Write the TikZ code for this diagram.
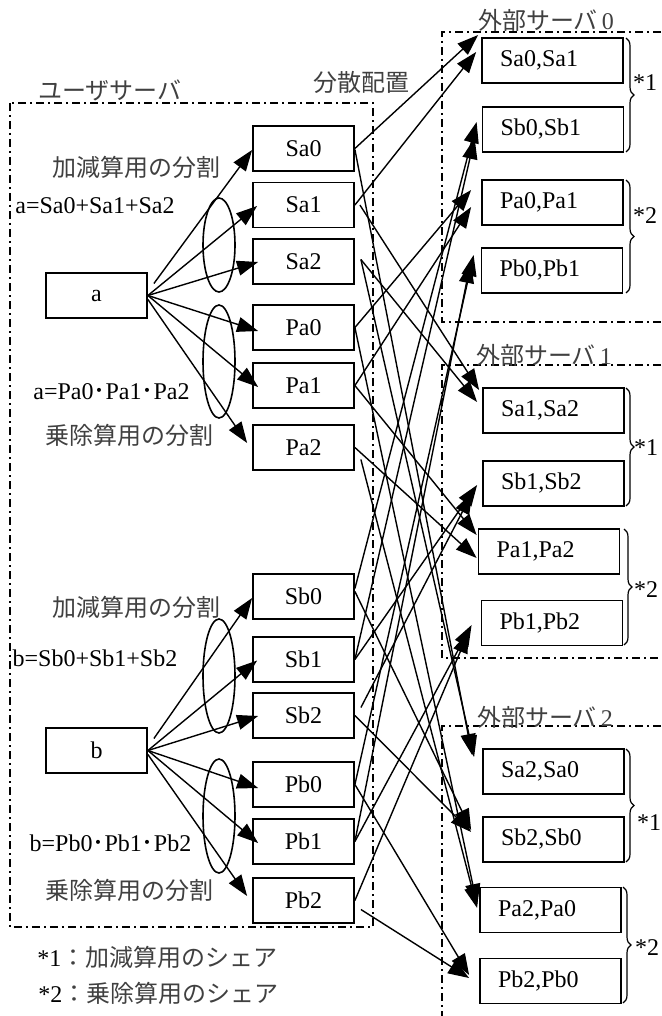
\documentclass[tikz,border=0pt]{standalone}
\usepackage{fontspec}
\setmainfont{Liberation Serif}
\newfontfamily\jp{Noto Sans CJK JP}
\usetikzlibrary{arrows.meta,decorations.pathreplacing,calc}
\begin{document}
\begin{tikzpicture}[x=0.5pt,y=-0.5pt,
  share/.style={draw,line width=0.9pt,minimum width=50.5pt,minimum height=22.5pt,inner sep=0pt,font=\fontsize{12}{14}\selectfont},
  srv/.style={draw,line width=0.9pt,minimum width=70.5pt,minimum height=22.5pt,inner xsep=9pt,inner ysep=0pt,text width=52.5pt,align=left,font=\fontsize{12}{14}\selectfont},
  arr/.style={line width=0.7pt,-{Triangle[length=10.5pt,width=7.5pt]}},
  frame/.style={line width=0.6pt,dash pattern=on 4pt off 2pt on 1pt off 2pt},
  lbl/.style={font=\fontsize{12}{14}\selectfont,inner sep=0pt},
  jlbl/.style={font=\jp\fontsize{12}{14}\selectfont,text=black!75,inner sep=0pt},
  grp/.style={line width=0.8pt},
  br/.style={decorate,decoration={brace,amplitude=4pt},line width=0.6pt}
]
\useasboundingbox (0,0) rectangle (661,1016);

% frames
\draw[frame] (10,103) rectangle (373,927);
\draw[frame] (661,32) -- (442,32) -- (442,322) -- (661,322);
\draw[frame] (661,365) -- (442,365) -- (442,658) -- (661,658);
\draw[frame] (661,726) -- (442,726) -- (442,1016);

% labels
\node[jlbl] (luser) at (110,90) {ユーザサーバ};
\node[jlbl] (lbunsan) at (361,82) {分散配置};
\node[jlbl] (lsrv0) at (546,20) {外部サーバ\,\rmfamily 0};
\node[jlbl] (lsrv1) at (544,355) {外部サーバ\,\rmfamily 1};
\node[jlbl] (lsrv2) at (545,717) {外部サーバ\,\rmfamily 2};

\node[jlbl] (lka) at (136,167) {加減算用の分割};
\node[lbl] (eqsa) at (95,206) {a=Sa0+Sa1+Sa2};
\node[lbl] (eqpa) at (111.5,392) {a=Pa0{\jp ･}Pa1{\jp ･}Pa2};
\node[jlbl] (ljo) at (129,435) {乗除算用の分割};
\node[jlbl] (lkb) at (136,607) {加減算用の分割};
\node[lbl] (eqsb) at (95,658) {b=Sb0+Sb1+Sb2};
\node[lbl] (eqpb) at (110.5,843) {b=Pb0{\jp ･}Pb1{\jp ･}Pb2};
\node[jlbl] (ljob) at (129,890) {乗除算用の分割};

\node[lbl,anchor=west] (leg1) at (37,957) {*1{\jp\color{black!75}：加減算用のシェア}};
\node[lbl,anchor=west] (leg2) at (38,993) {*2{\jp\color{black!75}：乗除算用のシェア}};

% source boxes
\node[share] (a) at (96.5,295.5) {a};
\node[share] (b) at (96.5,750.5) {b};

% share boxes
\node[share] (sa0) at (303.5,148.5) {Sa0};
\node[share] (sa1) at (303.5,205) {Sa1};
\node[share] (sa2) at (303.5,261.5) {Sa2};
\node[share] (pa0) at (303.5,327.5) {Pa0};
\node[share] (pa1) at (303.5,385.5) {Pa1};
\node[share] (pa2) at (303.5,447.5) {Pa2};
\node[share] (sb0) at (303.5,596.5) {Sb0};
\node[share] (sb1) at (303.5,659.5) {Sb1};
\node[share] (sb2) at (303.5,715.5) {Sb2};
\node[share] (pb0) at (303.5,784.5) {Pb0};
\node[share] (pb1) at (303.5,841.5) {Pb1};
\node[share] (pb2) at (303.5,900.5) {Pb2};

% server boxes
\node[srv] (s0a) at (552.5,60.5) {Sa0,Sa1};
\node[srv] (s0b) at (553,129.5) {Sb0,Sb1};
\node[srv] (s0c) at (552.5,202.5) {Pa0,Pa1};
\node[srv] (s0d) at (552,270.5) {Pb0,Pb1};
\node[srv] (s1a) at (553.5,410.5) {Sa1,Sa2};
\node[srv] (s1b) at (553.5,483.5) {Sb1,Sb2};
\node[srv] (s1c) at (549,551.5) {Pa1,Pa2};
\node[srv] (s1d) at (552,623) {Pb1,Pb2};
\node[srv] (s2a) at (553.5,771.5) {Sa2,Sa0};
\node[srv] (s2b) at (553.5,839.5) {Sb2,Sb0};
\node[srv] (s2c) at (550.5,910) {Pa2,Pa0};
\node[srv] (s2d) at (550.5,981) {Pb2,Pb0};

% braces
\draw[br] (626,38) -- (626,152);
\draw[br] (626,180) -- (626,293);
\draw[br] (626,388) -- (626,506);
\draw[br] (624,529) -- (624,645);
\draw[br] (626,749) -- (626,862);
\draw[br] (623,887) -- (623,1003);
\node[lbl] (n01) at (645,83) {*1};
\node[lbl] (n02) at (645,216) {*2};
\node[lbl] (n11) at (646,448) {*1};
\node[lbl] (n12) at (646,590) {*2};
\node[lbl] (n21) at (649,823) {*1};
\node[lbl] (n22) at (647,948) {*2};

% grouping ellipses
\draw[grp] (219,245) ellipse [x radius=16, y radius=47];
\draw[grp] (219,361.5) ellipse [x radius=16, y radius=56.5];
\draw[grp] (219,676) ellipse [x radius=16, y radius=57];
\draw[grp] (219,816) ellipse [x radius=16, y radius=57];

% splitting arrows a
\draw[arr] ($(a.east)+(6,-12)$) -- ($(sa0.west)+(0,1.5)$);
\draw[arr] (a.east) -- ($(sa1.west)+(5,1)$);
\draw[arr] (a.east) -- ($(sa2.west)+(6,0.5)$);
\draw[arr] (a.east) -- ($(pa0.west)+(6,3.5)$);
\draw[arr] (a.east) -- ($(pa1.west)+(6,1.5)$);
\draw[arr] ($(a.east)+(0,4)$) -- ($(pa2.west)+(-5,-4.5)$);
% splitting arrows b
\draw[arr] ($(b.east)+(6,-12)$) -- ($(sb0.west)+(0,1.5)$);
\draw[arr] (b.east) -- ($(sb1.west)+(5,1)$);
\draw[arr] (b.east) -- ($(sb2.west)+(6,0.5)$);
\draw[arr] (b.east) -- ($(pb0.west)+(6,3.5)$);
\draw[arr] (b.east) -- ($(pb1.west)+(6,1.5)$);
\draw[arr] ($(b.east)+(0,4)$) -- ($(pb2.west)+(-5,-4.5)$);

% distribution arrows
\draw[arr] (sa0.east) -- ($(s0a.west)+(-3,-25.5)$);
\draw[arr] ($(sa0.east)+(0,1)$) -- ($(s2a.west)+(-10,-16.5)$);
\draw[arr] (sa1.east) -- ($(s0a.west)+(-5,-8.5)$);
\draw[arr] ($(sa1.east)+(5,0)$) -- ($(s1a.west)+(-3,-20.5)$);
\draw[arr] ($(sa2.east)+(6,-2)$) -- ($(s1a.west)+(-5,-8.5)$);
\draw[arr] ($(sa2.east)+(6,-2)$) -- ($(s2a.west)+(-8,-14.5)$);
\draw[arr] (pa0.east) -- ($(s0c.west)+(-10,-12.5)$);
\draw[arr] (pa0.east) -- ($(s2c.west)+(-2,-5)$);
\draw[arr] (pa1.east) -- ($(s0c.west)+(-10,4.5)$);
\draw[arr] (pa1.east) -- ($(s1c.west)+(-1,-16.5)$);
\draw[arr] (pa2.east) -- ($(s1c.west)+(-1,6.5)$);
\draw[arr] ($(pa2.east)+(6,12)$) -- ($(s2c.west)+(-2,-2)$);
\draw[arr] ($(sb0.east)+(0,-8)$) -- ($(s0b.west)+(-5,-7.5)$);
\draw[arr] ($(sb0.east)+(0,-5)$) -- ($(s2b.west)+(-11,-9.5)$);
\draw[arr] (sb1.east) -- ($(s0b.west)+(-7,8.5)$);
\draw[arr] (sb1.east) -- ($(s1b.west)+(-5,1.5)$);
\draw[arr] ($(sb2.east)+(6,-8)$) -- ($(s1b.west)+(-10,9.5)$);
\draw[arr] (sb2.east) -- ($(s2b.west)+(-11,-7.5)$);
\draw[arr] (pb0.east) -- ($(s0d.west)+(-7,-15.5)$);
\draw[arr] (pb0.east) -- ($(s2d.west)+(-10,-6)$);
\draw[arr] (pb1.east) -- ($(s0d.west)+(-10,-8.5)$);
\draw[arr] (pb1.east) -- ($(s1d.west)+(-9,2)$);
\draw[arr] (pb2.east) -- ($(s1d.west)+(-12,9)$);
\draw[arr] ($(pb2.east)+(6,9)$) -- ($(s2d.west)+(-10,-3)$);
\end{tikzpicture}
\end{document}
